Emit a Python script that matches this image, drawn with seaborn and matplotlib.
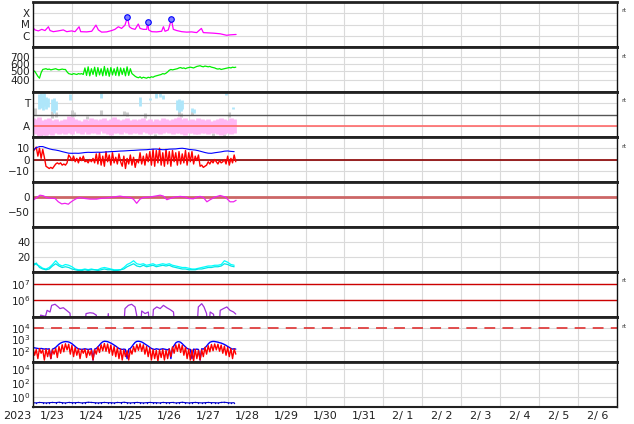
import numpy as np
import seaborn as sns
import matplotlib.pyplot as plt
from matplotlib.ticker import NullLocator

# time axis: hours since 2023-01-23 00:00
day_labels = ['1/23', '1/24', '1/25', '1/26', '1/27', '1/28', '1/29', '1/30',
              '1/31', '2/ 1', '2/ 2', '2/ 3', '2/ 4', '2/ 5', '2/ 6']

# X-ray flux (W/m2)
xray_t = [0, 1.2, 3.3, 5.4, 7.4, 9.5, 10.5, 12.5, 15.6, 18.7,
          20.8, 23.8, 25.9, 28.4, 29.4, 33.1, 36.2, 38.8, 40.3, 42.3,
          45.4, 48.5, 50.5, 52.6, 54.6, 56.7, 58.2, 59.4, 60.8, 62.9,
          64.9, 66.0, 68.0, 70.1, 70.7, 71.3, 73.2, 76.2, 79.3, 80.4,
          81.4, 83.4, 85.3, 86.5, 88.6, 91.7, 94.7, 97.8, 100.9, 103.8,
          105.0, 108.1, 111.2, 115.3, 119.4, 121.4, 125.2]
xray_flux = [5.2e-6, 3.3e-6, 2.7e-6, 3.7e-6, 2.9e-6, 6.3e-6, 2.9e-6, 2.3e-6, 2.7e-6, 3.3e-6,
             2.3e-6, 2.7e-6, 2.3e-6, 6.3e-6, 2.3e-6, 2.2e-6, 2.5e-6, 8.8e-6, 3.3e-6, 2.1e-6,
             2.2e-6, 2.9e-6, 3.7e-6, 6.3e-6, 4.5e-6, 8.8e-6, 4.5e-5, 6.3e-6, 4.5e-6, 3.7e-6,
             1.1e-5, 4.5e-6, 3.7e-6, 3.7e-6, 1.8e-5, 3.3e-6, 2.3e-6, 2.2e-6, 2.5e-6, 6.3e-6,
             2.5e-6, 3.3e-6, 2.9e-5, 3.7e-6, 2.9e-6, 2.3e-6, 2.1e-6, 2.2e-6, 1.9e-6, 4.5e-6,
             1.9e-6, 1.8e-6, 1.7e-6, 1.5e-6, 1.1e-6, 1.2e-6, 1.3e-6]
flare_t = [58.2, 70.7, 85.3]
flare_flux = [4.5e-5, 1.8e-5, 2.9e-5]

# solar wind speed, hourly
speed = [490, 500, 470, 440, 420, 480, 520, 525, 530, 520,
         525, 515, 520, 525, 530, 520, 515, 520, 525, 520,
         520, 490, 470, 465, 460, 470, 465, 460, 470, 465,
         470, 460, 540, 450, 555, 445, 530, 460, 550, 440,
         545, 455, 530, 445, 560, 450, 535, 440, 545, 455,
         530, 450, 550, 445, 540, 460, 535, 445, 555, 450,
         530, 470, 455, 440, 430, 425, 435, 420, 430, 425,
         420, 430, 425, 435, 430, 440, 445, 450, 455, 460,
         470, 465, 475, 490, 510, 520, 515, 520, 525, 530,
         540, 545, 535, 540, 530, 540, 545, 550, 545, 540,
         550, 560, 565, 570, 560, 555, 565, 560, 555, 560,
         550, 545, 540, 530, 525, 530, 520, 525, 530, 535,
         540, 545, 540, 550, 545, 550]

# IMF sector (A = 1, T = 3), 2-hourly away band
away_hi = [1.7, 1.6, 1.8, 1.5, 1.6, 1.7, 1.5, 1.6, 1.4, 1.5,
           1.6, 1.9, 1.8, 1.6, 1.5, 1.4, 1.6, 1.5, 1.7, 1.6,
           1.5, 1.6, 1.7, 1.5, 1.6, 1.8, 1.6, 1.5, 1.6, 1.7,
           1.5, 1.6, 1.5, 1.6, 1.7, 1.5, 1.6, 1.4, 1.6, 1.5,
           1.7, 1.6, 1.5, 1.6, 1.7, 1.8, 1.6, 1.7, 1.5, 1.6,
           1.5, 1.7, 1.6, 1.5, 1.6, 1.4, 1.5, 1.6, 1.7, 1.6,
           1.5, 1.7, 1.6]
away_lo = [0.4, 0.3, 0.1, 0.2, 0.15, 0.3, 0.2, 0.4, 0.3, 0.35,
           0.3, 0.4, 0.3, 0.5, 0.4, 0.3, 0.45, 0.3, 0.4, 0.35,
           0.3, 0.5, 0.4, 0.3, 0.2, 0.35, 0.4, 0.3, 0.45, 0.4,
           0.3, 0.35, 0.4, 0.3, 0.45, 0.4, 0.3, 0.35, 0.4, 0.3,
           0.35, 0.45, 0.4, 0.3, 0.35, 0.4, 0.3, 0.2, 0.35, 0.4,
           0.3, 0.25, 0.4, 0.35, 0.3, 0.4, 0.35, 0.3, 0.2, 0.3,
           0.4, 0.3, 0.35]
toward_t = [4, 5, 6, 7, 8, 9, 12, 13, 14, 23, 42, 66, 72, 76, 78, 80, 89, 90, 91, 92, 98, 99, 119, 123]
toward_lo = [2.5, 2.6, 2.4, 2.8, 2.5, 2.7, 2.3, 2.1, 2.4, 3.3, 3.5, 2.8, 3.3, 3.5, 3.6, 3.4, 2.4, 2.2, 2.3, 2.5, 2.2, 2.1, 3.7, 2.5]
toward_hi = [3.8, 3.9, 3.7, 3.9, 3.6, 3.5, 3.4, 3.5, 3.2, 3.8, 3.9, 3.6, 3.5, 3.9, 3.9, 3.7, 3.3, 3.4, 3.2, 3.3, 2.6, 2.5, 3.9, 2.7]
mixed_t = [1, 5, 8, 12, 14, 24, 25, 33, 42, 56, 58, 69, 75, 90, 91, 98, 111, 118, 121]
mixed_lo = [2.0, 0.0, 0.0, 1.7, 1.8, 1.8, 1.9, 1.6, 2.0, 2.0, 1.9, 1.7, 0.1, 1.9, 1.8, 2.0, 0.1, 0.0, 1.8]
mixed_hi = [2.6, 0.3, 0.2, 2.3, 2.2, 2.4, 2.2, 1.9, 2.4, 2.3, 2.2, 2.1, 0.3, 2.3, 2.1, 2.3, 0.4, 0.3, 2.2]

# IMF Bt (2-hourly) and Bz (hourly), nT
bt = [8.0, 10.5, 11.5, 11.5, 10.5, 9.5, 8.8, 8.4, 7.8, 7.0,
      6.3, 5.6, 5.5, 5.6, 5.5, 5.8, 6.2, 6.4, 6.3, 6.4,
      6.5, 6.4, 6.6, 6.8, 7.0, 7.1, 7.3, 7.5, 7.6, 7.8,
      8.0, 8.1, 8.3, 8.5, 8.6, 8.7, 9.0, 9.2, 9.3, 9.0,
      8.7, 8.8, 9.2, 9.3, 9.4, 9.8, 10.0, 9.6, 9.0, 8.7,
      8.4, 7.8, 7.0, 6.2, 5.6, 5.5, 6.0, 6.4, 6.8, 7.4,
      7.6, 7.2, 7.0]
bz = [7, 9, 11, 3, 10, 1, 9, 2, -6, -7,
      -8, -7, -8, -6, -4, -3, -4, -3, -5, -4,
      -5, -3, 4, 2, -1, 3, -2, 1, -3, 2,
      -1, 3, -2, -1, -3, 0, -2, 1, -3, 5,
      -4, 6, -5, 3, -6, 7, -2, 4, -5, 6,
      -3, 2, -4, 5, -2, -6, 3, -8, 1, -4,
      4, -5, 2, -7, 0, -3, 6, -4, 3, -5,
      5, -2, 7, -5, 9, -6, 8, -3, 10, -5,
      6, -6, 9, -4, 7, -6, 8, -2, 6, -5,
      7, -4, 5, -3, 8, -5, 6, -2, 7, -4,
      3, -1, 4, -6, -5, -7, -6, -5, -2, -4,
      -1, -3, 0, -2, -4, -1, -3, -2, 0, -4,
      3, -5, 1, -3, 4, -2]

# Dst index, nT
dst_t = [0, 2.3, 4.3, 6.4, 8.4, 10.5, 13.6, 15.6, 17.7, 19.7,
         21.8, 22.8, 24.9, 26.9, 29.0, 32.0, 35.1, 39.2, 41.3, 45.4,
         49.5, 53.6, 56.7, 59.8, 61.9, 63.9, 66.0, 68.0, 72.2, 75.3,
         78.4, 80.4, 82.5, 84.5, 87.6, 90.7, 93.8, 95.9, 98.9, 101.0,
         103.0, 105.1, 107.2, 109.2, 112.3, 115.4, 118.5, 121.5, 123.6, 125.2]
dst = [-11, -2, 6, 4, -2, -4, -5, -16, -23, -21,
       -24, -19, -11, -5, -2, -5, -7, -7, -5, -3,
       0, 3, 0, -2, -7, -21, -7, -2, 0, 3,
       6, 3, -9, -5, 0, 2, 0, -5, -6, 0,
       2, -2, -16, -9, 0, 5, 0, -16, -16, -11]

# density-like pair, 2-hourly
dens_a = [12, 10, 8, 5, 4, 6, 10, 15, 10, 8, 10, 9, 7, 4, 3, 3, 4, 3, 4, 3,
          3, 5, 6, 5, 4, 3, 3, 3, 6, 10, 12, 15, 11, 10, 11, 9, 10, 11, 9, 10,
          11, 10, 11, 9, 8, 7, 6, 6, 5, 4, 4, 5, 6, 7, 8, 8, 9, 9, 10, 15,
          13, 10, 9]
dens_b = [8, 12, 6, 4, 3, 4, 8, 11, 8, 6, 7, 6, 4, 3, 2, 2, 3, 2, 3, 3,
          2, 3, 4, 3, 3, 2, 2, 3, 4, 7, 9, 11, 8, 7, 9, 7, 8, 9, 7, 8,
          9, 8, 9, 7, 6, 5, 4, 4, 3, 3, 3, 4, 4, 5, 6, 6, 7, 7, 8, 11,
          10, 8, 7]

# proton fluence (values below 1e5 fall off the panel)
prot_t = [0, 4.0, 4.7, 7.7, 8.7, 10.5, 11.5, 13.6, 15.6, 16.6,
          18.7, 20.7, 22.8, 23.5, 32.0, 32.7, 35.1, 37.1, 39.0, 39.8,
          45.8, 46.4, 47.0, 56.0, 56.7, 58.8, 60.8, 62.9, 63.9, 64.5,
          66.4, 67.0, 69.1, 71.1, 71.8, 73.6, 74.2, 76.3, 78.4, 80.4,
          82.5, 84.5, 86.6, 87.3, 101.2, 101.9, 104.0, 105.4, 107.0, 107.6,
          108.6, 109.2, 111.3, 112.0, 114.8, 115.4, 117.4, 119.5, 121.5, 123.6,
          125.0]
prot = [3e4, 3e4, 1.3e5, 1.1e5, 2.5e5, 2.0e5, 5.0e5, 5.8e5, 4.0e5, 3.2e5,
        3.6e5, 2.5e5, 1.7e5, 3e4, 3e4, 1.6e5, 1.8e5, 1.7e5, 1.3e5, 3e4,
        3e4, 1.6e5, 3e4, 3e4, 3.2e5, 5.0e5, 5.8e5, 4.0e5, 1.3e5, 3e4,
        3e4, 2.3e5, 1.6e5, 2.0e5, 3e4, 3e4, 2.8e5, 4.0e5, 3.2e5, 5.0e5,
        3.6e5, 2.8e5, 2.0e5, 3e4, 3e4, 4.0e5, 6.3e5, 4.0e5, 1.6e5, 3e4,
        3e4, 2.0e5, 1.45e5, 3e4, 3e4, 2.5e5, 3.2e5, 4.0e5, 2.5e5, 2.0e5,
        1.5e5]

# electron flux, hourly
elec_hi = [200, 180, 170, 160, 150, 160, 150, 140, 150, 140,
           150, 20, 140, 160, 200, 280, 380, 480, 560, 620,
           650, 640, 600, 520, 420, 320, 240, 180, 150, 140,
           130, 140, 150, 140, 130, 140, 150, 15, 140, 160,
           220, 320, 480, 620, 700, 680, 640, 560, 480, 400,
           320, 260, 200, 160, 140, 130, 140, 130, 20, 140,
           160, 240, 380, 560, 680, 700, 660, 600, 500, 400,
           320, 260, 200, 160, 140, 130, 150, 140, 130, 140,
           150, 140, 130, 120, 150, 20, 180, 300, 500, 620,
           640, 560, 420, 300, 220, 160, 140, 130, 20, 140,
           130, 140, 130, 15, 150, 140, 180, 260, 400, 560,
           640, 680, 660, 620, 580, 520, 480, 420, 360, 300,
           240, 200, 160, 140, 150, 140]
elec_lo = [150, 40, 130, 20, 160, 60, 120, 15, 140, 30,
           130, 20, 120, 50, 160, 25, 240, 60, 340, 80,
           420, 120, 380, 50, 300, 30, 200, 40, 150, 20,
           130, 60, 140, 25, 120, 40, 110, 15, 130, 50,
           220, 70, 340, 100, 440, 90, 400, 60, 320, 40,
           240, 30, 180, 20, 140, 15, 120, 30, 100, 15,
           130, 50, 240, 80, 360, 110, 420, 90, 340, 50,
           240, 30, 180, 15, 130, 20, 110, 12, 120, 25,
           130, 15, 110, 20, 140, 30, 220, 60, 340, 90,
           400, 70, 300, 40, 200, 20, 140, 15, 120, 12,
           130, 20, 110, 15, 120, 30, 200, 50, 280, 80,
           360, 100, 400, 120, 380, 90, 320, 60, 260, 40,
           200, 30, 160, 20, 140, 50]

# bottom panel, 2-hourly
bottom = [0.13, 0.12, 0.14, 0.13, 0.12, 0.13, 0.14, 0.13, 0.15, 0.13,
          0.12, 0.14, 0.13, 0.13, 0.14, 0.12, 0.13, 0.15, 0.14, 0.13,
          0.12, 0.13, 0.14, 0.13, 0.13, 0.12, 0.14, 0.13, 0.15, 0.13,
          0.12, 0.13, 0.14, 0.13, 0.12, 0.13, 0.14, 0.13, 0.13, 0.12,
          0.14, 0.13, 0.13, 0.14, 0.12, 0.13, 0.15, 0.13, 0.12, 0.13,
          0.14, 0.13, 0.12, 0.13, 0.14, 0.13, 0.13, 0.12, 0.14, 0.15,
          0.13, 0.12, 0.13]


def hours(vals, step):
    return np.arange(len(vals)) * step


sns.set_theme(style='white')
plt.rcParams['font.family'] = ['DejaVu Sans']

fig, axes = plt.subplots(9, 1, figsize=(6.34, 4.24), dpi=100, sharex=True)
fig.subplots_adjust(left=33 / 634, right=617 / 634, top=1 - 2 / 424,
                    bottom=1 - 407 / 424, hspace=0)

grid_c = '#dadada'
for ax in axes:
    ax.set_xlim(0, 360)
    ax.set_xticks(np.arange(0, 361, 24))
    ax.set_xticks(np.arange(12, 360, 24), minor=True)
    ax.grid(True, which='major', color=grid_c, lw=0.8)
    ax.grid(False, which='minor')
    ax.tick_params(axis='both', which='both', length=0, labelsize=7.5,
                   pad=2, colors='#222222')
    for s in ('top', 'bottom'):
        ax.spines[s].set_linewidth(2.0)
        ax.spines[s].set_color('#222222')
    for s in ('left', 'right'):
        ax.spines[s].set_linewidth(1.0)
        ax.spines[s].set_color('#111111')
    ax.set_xlabel('')
    ax.set_ylabel('')

# 1: X-ray
ax = axes[0]
sns.lineplot(x=xray_t, y=xray_flux, ax=ax, color='#ff00ff', lw=0.9, estimator=None)
sns.scatterplot(x=flare_t, y=flare_flux, ax=ax, s=16, color='#8080ff',
                edgecolor='#0000ff', linewidth=0.8, zorder=5)
ax.set_yscale('log')
ax.set_ylim(1e-7, 1e-3)
ax.set_yticks([1e-6, 1e-5, 1e-4], ['C', 'M', 'X'])
ax.yaxis.set_minor_locator(NullLocator())

# 2: speed
ax = axes[1]
sns.lineplot(x=hours(speed, 1), y=speed, ax=ax, color='#00ee00', lw=0.9, estimator=None)
ax.set_yscale('log')
ax.set_ylim(300, 900)
ax.set_yticks([400, 500, 600, 700], ['400', '500', '600', '700'])
ax.yaxis.set_minor_locator(NullLocator())

# 3: sector
ax = axes[2]
ax.vlines(mixed_t, mixed_lo, mixed_hi, colors='#cccccc', lw=2.2)
ax.vlines(hours(away_hi, 2), away_lo, away_hi, colors='#ffb8f4', lw=3.4)
ax.vlines(toward_t, toward_lo, toward_hi, colors='#aee6fa', lw=2.0)
ax.axhline(2, color='#555555', lw=1.0)
ax.axhline(1, color='#ff6a6a', lw=1.2)
ax.set_ylim(0, 4)
ax.set_yticks([1, 3], ['A', 'T'])

# 4: Bt / Bz
ax = axes[3]
ax.axhline(0, color='#8b0000', lw=1.2)
sns.lineplot(x=hours(bz, 1), y=bz, ax=ax, color='#ff0000', lw=1.0, estimator=None)
sns.lineplot(x=hours(bt, 2), y=bt, ax=ax, color='#0000ff', lw=0.8, estimator=None)
ax.set_ylim(-20, 20)
ax.set_yticks([-10, 0, 10], ['\u221210', '0', '10'])

# 5: Dst
ax = axes[4]
ax.axhline(0, color='#cc6666', lw=2.0)
sns.lineplot(x=dst_t, y=dst, ax=ax, color='#ee22ee', lw=0.9, estimator=None)
ax.set_ylim(-100, 50)
ax.set_yticks([-50, 0], ['\u221250', '0'])

# 6: density pair
ax = axes[5]
sns.lineplot(x=hours(dens_a, 2), y=dens_a, ax=ax, color='#00ffff', lw=0.9, estimator=None)
sns.lineplot(x=hours(dens_b, 2), y=dens_b, ax=ax, color='#00e5e5', lw=0.9, estimator=None)
ax.set_ylim(0, 60)
ax.set_yticks([20, 40], ['20', '40'])

# 7: protons
ax = axes[6]
ax.axhline(1e7, color='#cc0000', lw=1.0)
ax.axhline(1e6, color='#cc0000', lw=1.0)
sns.lineplot(x=prot_t, y=prot, ax=ax, color='#a030d8', lw=0.9, estimator=None)
ax.set_yscale('log')
ax.set_ylim(1e5, 5e7)
ax.set_yticks([1e6, 1e7], ['$10^6$', '$10^7$'])
ax.yaxis.set_minor_locator(NullLocator())

# 8: electrons
ax = axes[7]
ax.axhline(1e4, color='#e04040', lw=1.3, ls=(0, (6, 4)))
sns.lineplot(x=hours(elec_hi, 1), y=elec_hi, ax=ax, color='#0000ff', lw=1.0, estimator=None)
sns.lineplot(x=hours(elec_lo, 1), y=elec_lo, ax=ax, color='#ff0000', lw=1.0, estimator=None)
ax.set_yscale('log')
ax.set_ylim(1e1, 1e5)
ax.set_yticks([1e2, 1e3, 1e4], ['$10^2$', '$10^3$', '$10^4$'])
ax.yaxis.set_minor_locator(NullLocator())

# 9: bottom
ax = axes[8]
sns.lineplot(x=hours(bottom, 2), y=bottom, ax=ax, color='#0000cc', lw=0.8,
             marker='.', markersize=2, markeredgewidth=0, estimator=None)
ax.set_yscale('log')
ax.set_ylim(3e-2, 1.2e5)
ax.set_yticks([1e0, 1e2, 1e4], ['$10^0$', '$10^2$', '$10^4$'])
ax.yaxis.set_minor_locator(NullLocator())
ax.spines['bottom'].set_linewidth(1.5)

# x labels on the bottom panel only
for ax in axes[:-1]:
    ax.tick_params(axis='x', which='both', labelbottom=False)
axes[-1].tick_params(axis='x', which='major', labelbottom=False)
axes[-1].set_xticklabels(day_labels, minor=True)
axes[-1].tick_params(axis='x', which='minor', labelsize=8, pad=3)
fig.text(17 / 634, 1 - 416 / 424, '2023', ha='center', va='center',
         fontsize=8, color='#222222')

for i in (0, 1, 2, 3, 6, 7):
    axes[i].text(1.008, 0.8, 'rt', transform=axes[i].transAxes,
                 fontsize=4.5, color='#333333', va='center')

fig.savefig('out.png', dpi=100)
